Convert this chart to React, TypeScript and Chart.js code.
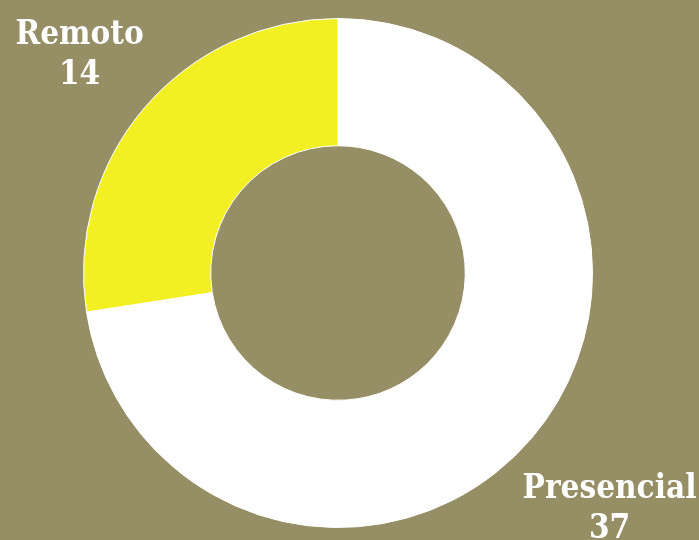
import React, { useEffect, useRef } from "react";
import { Chart, registerables } from "chart.js";

Chart.register(...registerables);

const labels = ["Presencial", "Remoto"];
const values = [37, 14];
const colors = ["#ffffff", "#f2f022"];
const BG = "#968f66";

const FONT = "bold 33px 'DejaVu Serif Condensed', 'DejaVu Serif'";
const LINE_H = 40;
const OFFSET = 11;
const TEXT_SHIFT_Y = 4;

const labelPlugin = {
  id: "outerLabels",
  afterDatasetsDraw(chart: any) {
    const ctx = chart.ctx;
    const meta = chart.getDatasetMeta(0);
    ctx.save();
    ctx.font = FONT;
    ctx.fillStyle = "#ffffff";
    ctx.textAlign = "center";
    ctx.textBaseline = "middle";
    meta.data.forEach((arc: any, i: number) => {
      const p = arc.getProps(["x", "y", "startAngle", "endAngle", "outerRadius"], true);
      const mid = (p.startAngle + p.endAngle) / 2;
      const vx = Math.cos(mid);
      const vy = Math.sin(mid);
      const lines = [labels[i], String(values[i])];
      const w = Math.max(...lines.map((l) => ctx.measureText(l).width));
      const h = lines.length * LINE_H;
      const dist = p.outerRadius + OFFSET + (w / 2) * Math.abs(vx) + (h / 2) * Math.abs(vy);
      const cx = p.x + vx * dist;
      const cy = p.y + vy * dist + TEXT_SHIFT_Y;
      lines.forEach((l, k) => {
        ctx.fillText(l, cx, cy - h / 2 + LINE_H * (k + 0.5));
      });
    });
    ctx.restore();
  },
};

export default function App() {
  const ref = useRef<HTMLCanvasElement>(null);
  useEffect(() => {
    document.body.style.margin = "0";
    document.body.style.background = BG;
    const chart = new Chart(ref.current!, {
      type: "doughnut",
      data: {
        labels,
        datasets: [
          {
            data: values,
            backgroundColor: colors,
            borderColor: "#ffffff",
            borderWidth: 1,
          },
        ],
      },
      options: {
        responsive: false,
        animation: false,
        cutout: "50%",
        layout: { padding: { left: 83, right: 106, top: 18, bottom: 12 } },
        plugins: { legend: { display: false }, tooltip: { enabled: false } },
      },
      plugins: [labelPlugin],
    });
    return () => chart.destroy();
  }, []);
  return (
    <div style={{ width: 699, height: 540, background: BG }}>
      <canvas ref={ref} width={699} height={540} />
    </div>
  );
}
